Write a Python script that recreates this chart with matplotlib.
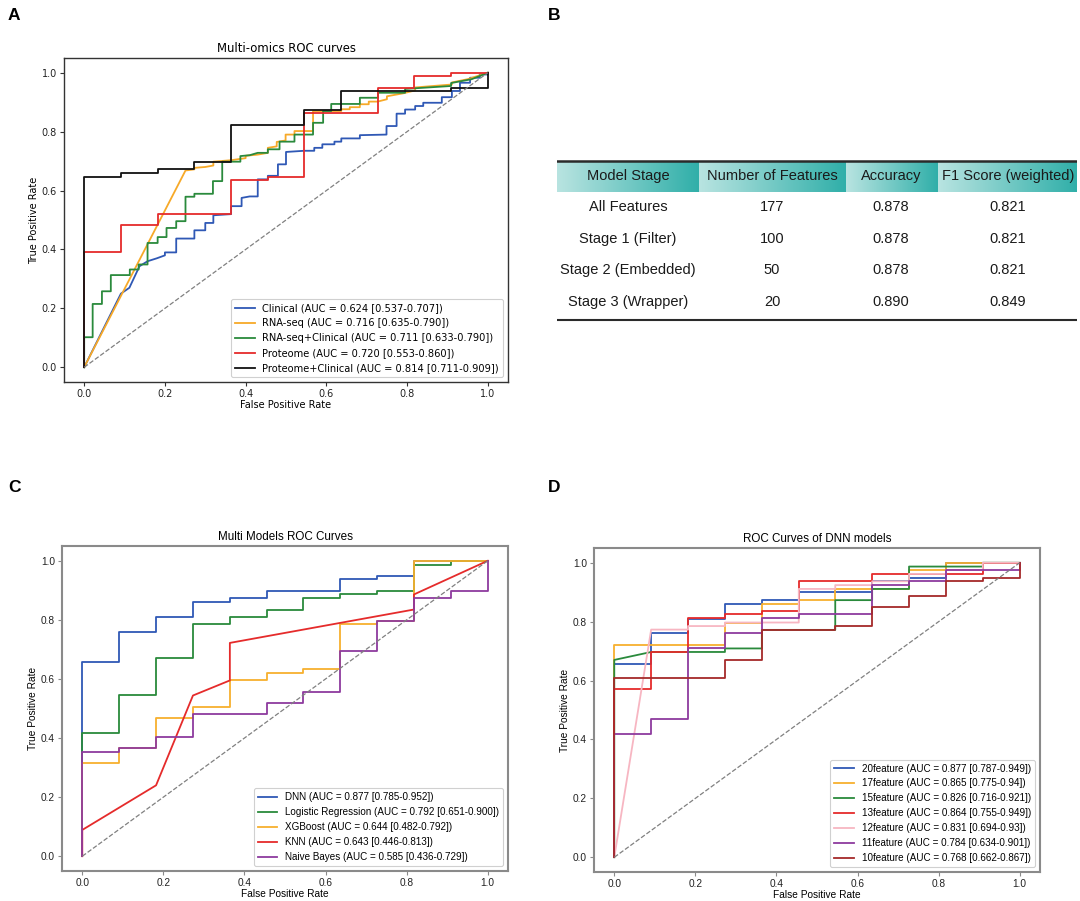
import matplotlib
matplotlib.use("Agg")
import matplotlib.pyplot as plt
import numpy as np
from matplotlib.colors import LinearSegmentedColormap

# ---------------- A: multi-omics ROC ----------------
clinical_roc = [(0, 0), (0.091, 0.25), (0.112, 0.27), (0.137, 0.343), (0.157, 0.36), (0.18, 0.37),
                (0.2, 0.38), (0.2, 0.39), (0.228, 0.39), (0.228, 0.437), (0.273, 0.437), (0.273, 0.465),
                (0.3, 0.465), (0.3, 0.49), (0.32, 0.49), (0.32, 0.516), (0.364, 0.52), (0.364, 0.547),
                (0.39, 0.547), (0.39, 0.575), (0.41, 0.58), (0.43, 0.58), (0.43, 0.638), (0.455, 0.638),
                (0.455, 0.65), (0.48, 0.65), (0.48, 0.689), (0.5, 0.689), (0.5, 0.731), (0.545, 0.735),
                (0.57, 0.735), (0.57, 0.745), (0.59, 0.745), (0.59, 0.757), (0.62, 0.757), (0.62, 0.766),
                (0.637, 0.766), (0.637, 0.777), (0.683, 0.777), (0.683, 0.788), (0.749, 0.79), (0.749, 0.819),
                (0.774, 0.819), (0.774, 0.861), (0.795, 0.861), (0.795, 0.875), (0.82, 0.875), (0.82, 0.887),
                (0.84, 0.887), (0.84, 0.898), (0.886, 0.898), (0.886, 0.917), (0.911, 0.917), (0.911, 0.938),
                (0.931, 0.938), (0.931, 0.966), (0.956, 0.966), (0.956, 0.983), (0.98, 0.983), (0.98, 0.994),
                (1.0, 0.994), (1.0, 1.0)]
rnaseq_roc = [(0, 0), (0.251, 0.668), (0.273, 0.672), (0.273, 0.677), (0.3, 0.68), (0.32, 0.685),
              (0.32, 0.698), (0.364, 0.703), (0.4, 0.71), (0.4, 0.718), (0.43, 0.722), (0.455, 0.728),
              (0.455, 0.745), (0.477, 0.75), (0.477, 0.765), (0.499, 0.77), (0.499, 0.79), (0.521, 0.79),
              (0.521, 0.802), (0.567, 0.802), (0.567, 0.87), (0.637, 0.87), (0.637, 0.876), (0.658, 0.876),
              (0.658, 0.883), (0.683, 0.883), (0.683, 0.893), (0.705, 0.893), (0.705, 0.902), (0.727, 0.902),
              (0.75, 0.91), (0.75, 0.92), (0.79, 0.93), (0.82, 0.94), (0.82, 0.95), (0.865, 0.955),
              (0.911, 0.96), (0.911, 0.967), (0.95, 0.978), (1.0, 1.0)]
rnaseq_clin_roc = [(0, 0), (0, 0.102), (0.021, 0.102), (0.021, 0.215), (0.044, 0.215), (0.044, 0.258),
                   (0.066, 0.258), (0.066, 0.313), (0.113, 0.313), (0.113, 0.332), (0.135, 0.332),
                   (0.135, 0.349), (0.157, 0.349), (0.157, 0.422), (0.182, 0.422), (0.182, 0.442),
                   (0.204, 0.442), (0.204, 0.473), (0.228, 0.473), (0.228, 0.496), (0.251, 0.496),
                   (0.251, 0.579), (0.273, 0.579), (0.273, 0.589), (0.319, 0.589), (0.319, 0.632),
                   (0.342, 0.632), (0.342, 0.698), (0.387, 0.698), (0.387, 0.717), (0.41, 0.72),
                   (0.43, 0.728), (0.455, 0.728), (0.455, 0.74), (0.484, 0.74), (0.484, 0.766),
                   (0.521, 0.766), (0.521, 0.79), (0.567, 0.79), (0.567, 0.83), (0.592, 0.83),
                   (0.592, 0.87), (0.612, 0.87), (0.612, 0.894), (0.683, 0.894), (0.683, 0.915),
                   (0.728, 0.915), (0.728, 0.932), (0.795, 0.932), (0.795, 0.945), (0.909, 0.955),
                   (0.909, 0.965), (0.96, 0.978), (1.0, 1.0)]
proteome_roc = [(0, 0), (0, 0.393), (0.091, 0.393), (0.091, 0.482), (0.182, 0.482), (0.182, 0.521),
                (0.364, 0.521), (0.364, 0.636), (0.455, 0.636), (0.455, 0.646), (0.545, 0.646),
                (0.545, 0.862), (0.727, 0.862), (0.727, 0.947), (0.818, 0.947), (0.818, 0.989),
                (0.909, 0.989), (0.909, 1.0), (1.0, 1.0)]
proteome_clin_roc = [(0, 0), (0, 0.645), (0.091, 0.645), (0.091, 0.658), (0.182, 0.658), (0.182, 0.672),
                     (0.273, 0.672), (0.273, 0.696), (0.364, 0.696), (0.364, 0.822), (0.545, 0.822),
                     (0.545, 0.873), (0.636, 0.873), (0.636, 0.937), (0.909, 0.937), (0.909, 0.949),
                     (1.0, 0.949), (1.0, 1.0)]
omics_labels = ["Clinical (AUC = 0.624 [0.537-0.707])",
                "RNA-seq (AUC = 0.716 [0.635-0.790])",
                "RNA-seq+Clinical (AUC = 0.711 [0.633-0.790])",
                "Proteome (AUC = 0.720 [0.553-0.860])",
                "Proteome+Clinical (AUC = 0.814 [0.711-0.909])"]
omics_colors = ["#2f58b5", "#f7a928", "#2a8a3c", "#e52b2b", "#111111"]

# ---------------- B: feature selection table ----------------
table_header = ["Model Stage", "Number of Features", "Accuracy", "F1 Score (weighted)"]
table_stages = ["All Features", "Stage 1 (Filter)", "Stage 2 (Embedded)", "Stage 3 (Wrapper)"]
table_n_features = ["177", "100", "50", "20"]
table_accuracy = ["0.878", "0.878", "0.878", "0.890"]
table_f1 = ["0.821", "0.821", "0.821", "0.849"]

# ---------------- C: model comparison ROC ----------------
dnn_roc = [(0, 0), (0, 0.657), (0.091, 0.657), (0.091, 0.76), (0.182, 0.76), (0.182, 0.81),
           (0.273, 0.81), (0.273, 0.861), (0.364, 0.861), (0.364, 0.873), (0.455, 0.873),
           (0.455, 0.899), (0.636, 0.899), (0.636, 0.937), (0.727, 0.937), (0.727, 0.949),
           (0.818, 0.949), (0.818, 1.0), (1.0, 1.0)]
logreg_roc = [(0, 0), (0, 0.418), (0.091, 0.418), (0.091, 0.544), (0.182, 0.544), (0.182, 0.67),
              (0.273, 0.67), (0.273, 0.785), (0.364, 0.785), (0.364, 0.81), (0.455, 0.81),
              (0.455, 0.835), (0.545, 0.835), (0.545, 0.873), (0.636, 0.873), (0.636, 0.886),
              (0.727, 0.886), (0.727, 0.899), (0.818, 0.899), (0.818, 0.987), (0.909, 0.987),
              (0.909, 1.0), (1.0, 1.0)]
xgb_roc = [(0, 0), (0, 0.316), (0.091, 0.316), (0.091, 0.367), (0.182, 0.367), (0.182, 0.468),
           (0.273, 0.468), (0.273, 0.506), (0.364, 0.506), (0.364, 0.595), (0.455, 0.595),
           (0.455, 0.62), (0.545, 0.62), (0.545, 0.633), (0.636, 0.633), (0.636, 0.785),
           (0.727, 0.785), (0.727, 0.797), (0.818, 0.797), (0.818, 1.0), (1.0, 1.0)]
knn_roc = [(0, 0), (0, 0.089), (0.182, 0.24), (0.273, 0.544), (0.364, 0.595), (0.364, 0.722),
           (0.818, 0.835), (0.818, 0.886), (1.0, 1.0)]
nb_roc = [(0, 0), (0, 0.354), (0.091, 0.354), (0.091, 0.367), (0.182, 0.367), (0.182, 0.405),
          (0.273, 0.405), (0.273, 0.481), (0.455, 0.481), (0.455, 0.519), (0.545, 0.519),
          (0.545, 0.557), (0.636, 0.557), (0.636, 0.696), (0.727, 0.696), (0.727, 0.797),
          (0.818, 0.797), (0.818, 0.873), (0.909, 0.873), (0.909, 0.899), (1.0, 0.899), (1.0, 1.0)]
model_labels = ["DNN (AUC = 0.877 [0.785-0.952])",
                "Logistic Regression (AUC = 0.792 [0.651-0.900])",
                "XGBoost (AUC = 0.644 [0.482-0.792])",
                "KNN (AUC = 0.643 [0.446-0.813])",
                "Naive Bayes (AUC = 0.585 [0.436-0.729])"]
model_colors = ["#2f58b5", "#2a8a3c", "#f7b02e", "#e52b2b", "#8e3a9e"]

# ---------------- D: DNN with different feature counts ----------------
f20_roc = dnn_roc
f17_roc = [(0, 0), (0, 0.722), (0.273, 0.722), (0.273, 0.797), (0.364, 0.797), (0.364, 0.861),
           (0.455, 0.861), (0.455, 0.873), (0.545, 0.873), (0.545, 0.911), (0.727, 0.911),
           (0.727, 0.975), (0.818, 0.975), (0.818, 1.0), (1.0, 1.0)]
f15_roc = [(0, 0), (0, 0.67), (0.091, 0.697), (0.273, 0.697), (0.273, 0.709), (0.364, 0.709),
           (0.364, 0.772), (0.545, 0.772), (0.545, 0.873), (0.636, 0.873), (0.636, 0.911),
           (0.727, 0.911), (0.727, 0.987), (0.909, 0.987), (0.909, 1.0), (1.0, 1.0)]
f13_roc = [(0, 0), (0, 0.57), (0.091, 0.57), (0.091, 0.697), (0.182, 0.697), (0.182, 0.812),
           (0.273, 0.812), (0.273, 0.825), (0.364, 0.825), (0.364, 0.837), (0.455, 0.837),
           (0.455, 0.937), (0.636, 0.937), (0.636, 0.962), (0.909, 0.962), (0.909, 1.0), (1.0, 1.0)]
f12_roc = [(0, 0), (0.091, 0.773), (0.182, 0.773), (0.182, 0.785), (0.273, 0.785), (0.273, 0.797),
           (0.455, 0.797), (0.455, 0.911), (0.545, 0.911), (0.545, 0.924), (0.636, 0.924),
           (0.636, 0.937), (0.727, 0.937), (0.727, 0.962), (0.818, 0.962), (0.818, 0.975),
           (0.909, 0.975), (0.909, 1.0), (1.0, 1.0)]
f11_roc = [(0, 0), (0, 0.418), (0.091, 0.418), (0.091, 0.468), (0.182, 0.468), (0.182, 0.709),
           (0.273, 0.709), (0.273, 0.762), (0.364, 0.762), (0.364, 0.812), (0.455, 0.812),
           (0.455, 0.825), (0.636, 0.825), (0.636, 0.924), (0.727, 0.924), (0.727, 0.937),
           (0.818, 0.937), (0.818, 0.975), (1.0, 0.975), (1.0, 1.0)]
f10_roc = [(0, 0), (0, 0.608), (0.273, 0.608), (0.273, 0.671), (0.364, 0.671), (0.364, 0.773),
           (0.545, 0.773), (0.545, 0.785), (0.636, 0.785), (0.636, 0.848), (0.727, 0.848),
           (0.727, 0.886), (0.818, 0.886), (0.818, 0.937), (0.909, 0.937), (0.909, 0.949),
           (1.0, 0.949), (1.0, 1.0)]
dnn_labels = ["20feature (AUC = 0.877 [0.787-0.949])",
              "17feature (AUC = 0.865 [0.775-0.94])",
              "15feature (AUC = 0.826 [0.716-0.921])",
              "13feature (AUC = 0.864 [0.755-0.949])",
              "12feature (AUC = 0.831 [0.694-0.93])",
              "11feature (AUC = 0.784 [0.634-0.901])",
              "10feature (AUC = 0.768 [0.662-0.867])"]
dnn_colors = ["#2f58b5", "#f7b02e", "#2a8a3c", "#e52b2b", "#f7b6c2", "#8e3a9e", "#a52a2a"]

W, H = 1080, 901


def px_axes(fig, left, top, right, bottom):
    """axes placed by pixel box (top-left origin)."""
    return fig.add_axes([left / W, 1 - bottom / H, (right - left) / W, (bottom - top) / H])


def draw_roc(ax, curves, labels, colors, title, family, spine_col, spine_w, fs, leg_fs):
    for pts, lab, col in zip(curves, labels, colors):
        xs, ys = zip(*pts)
        ax.plot(xs, ys, color=col, lw=1.3, label=lab)
    ax.plot([0, 1], [0, 1], color="#808080", lw=0.9, ls="--")
    ax.set_xlim(-0.05, 1.05)
    ax.set_ylim(-0.05, 1.05)
    ax.set_xticks(np.arange(0, 1.01, 0.2))
    ax.set_yticks(np.arange(0, 1.01, 0.2))
    for s in ax.spines.values():
        s.set_color(spine_col)
        s.set_linewidth(spine_w)
    ax.tick_params(labelsize=fs, labelcolor="#222222", color=spine_col, length=3, width=0.8, pad=2)
    for t in ax.get_xticklabels() + ax.get_yticklabels():
        t.set_family(family)
    ax.set_xlabel("False Positive Rate", fontsize=fs, family=family, labelpad=1)
    ax.set_ylabel("True Positive Rate", fontsize=fs, family=family, labelpad=2)
    ax.set_title(title, fontsize=8.4, family=family, pad=4.5)
    leg = ax.legend(loc="lower right", prop={"family": family, "size": leg_fs},
                    handlelength=2.0, borderaxespad=0.5, labelspacing=0.5, framealpha=1)
    leg.get_frame().set_edgecolor("#d0d0d0")
    leg.get_frame().set_linewidth(0.8)


fig = plt.figure(figsize=(W / 100, H / 100), dpi=100)

# A
axA = px_axes(fig, 64, 58, 508, 382)
draw_roc(axA, [clinical_roc, rnaseq_roc, rnaseq_clin_roc, proteome_roc, proteome_clin_roc],
         omics_labels, omics_colors, "Multi-omics ROC curves", "DejaVu Sans", "#333333", 1.0, 7, 7.1)

# C
axC = px_axes(fig, 62, 546, 508, 871)
draw_roc(axC, [dnn_roc, logreg_roc, xgb_roc, knn_roc, nb_roc],
         model_labels, model_colors, "Multi Models ROC Curves", "Liberation Sans", "#8a8a8a", 1.5, 7.3, 7.1)

# D
axD = px_axes(fig, 594, 548, 1040, 872)
draw_roc(axD, [f20_roc, f17_roc, f15_roc, f13_roc, f12_roc, f11_roc, f10_roc],
         dnn_labels, dnn_colors, "ROC Curves of DNN models", "Liberation Sans", "#8a8a8a", 1.5, 7.3, 7.1)

# B: table
tx0, tx1, ty0, ty1 = 557, 1077, 161, 320
axB = px_axes(fig, tx0, ty0 - 2, tx1, ty1 + 2)
axB.axis("off")
col_edges = [557, 699, 846, 938, 1077]
col_centers = [628, 772, 891, 1008]
row_y = [207, 239, 270, 302]
teal = LinearSegmentedColormap.from_list("teal", ["#b9e4e1", "#30afa9"])
grad = np.linspace(0, 1, 256).reshape(1, -1)
for i in range(4):
    axB.imshow(grad, cmap=teal, aspect="auto",
               extent=(col_edges[i], col_edges[i + 1], 192, 162), zorder=1)
    axB.text(col_centers[i], 176, table_header[i], ha="center", va="center",
             fontsize=10.5, family="Liberation Sans", color="#1a1a1a", zorder=3)
for j, row in enumerate(zip(table_stages, table_n_features, table_accuracy, table_f1)):
    for i, val in enumerate(row):
        axB.text(col_centers[i], row_y[j], val, ha="center", va="center",
                 fontsize=10.5, family="Liberation Sans", color="#1a1a1a")
axB.plot([tx0, tx1], [ty0, ty0], color="#2a2a2a", lw=1.8, zorder=4)
axB.plot([tx0, tx1], [ty1, ty1], color="#2a2a2a", lw=1.5, zorder=4)
axB.set_xlim(tx0, tx1)
axB.set_ylim(ty1 + 2, ty0 - 2)

# panel letters
for letter, x, y in [("A", 8, 15), ("B", 548, 15), ("C", 8, 487), ("D", 548, 487)]:
    fig.text(x / W, 1 - y / H, letter, fontsize=12.5, fontweight="bold",
             family="Liberation Sans", va="center", ha="left")

fig.savefig("out.png", dpi=100, facecolor="white")
